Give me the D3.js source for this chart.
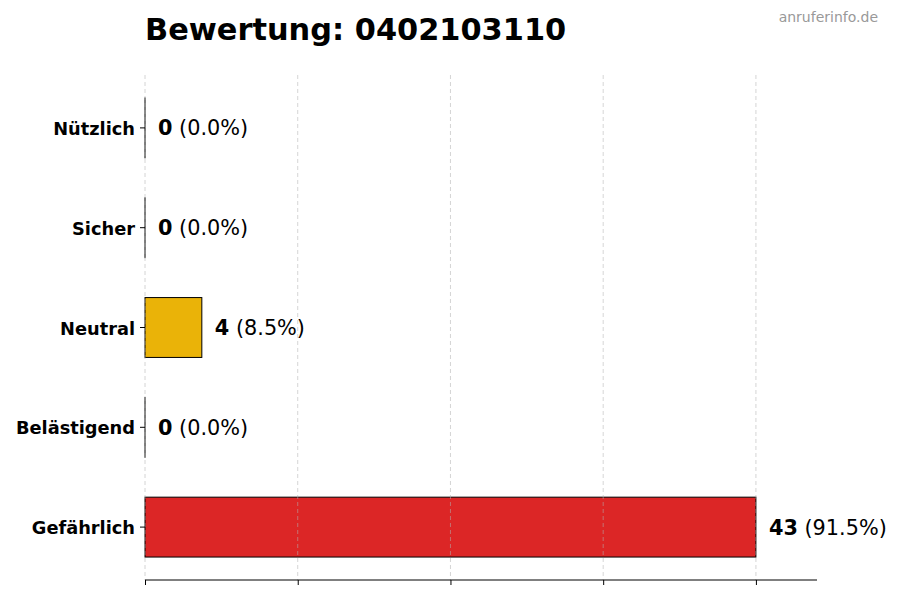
<!DOCTYPE html>
<html>
<head>
<meta charset="utf-8">
<style>
  body { margin: 0; background: #fff; }
  svg { font-family: "DejaVu Sans", sans-serif; }
</style>
<script src="https://d3js.org/d3.v7.min.js"></script>
</head>
<body>
<script>
const categories = ["Nützlich", "Sicher", "Neutral", "Belästigend", "Gefährlich"];
const counts = [0, 0, 4, 0, 43];
const colors = ["#16a34a", "#2563eb", "#eab308", "#f97316", "#dc2626"];
const phone = "0402103110";

const w = 900, h = 600;
const plotL = 145, plotR = 817, plotT = 75, plotB = 580;

const total = d3.sum(counts);
const max = d3.max(counts);

const svg = d3.select("body").append("svg")
  .attr("width", w).attr("height", h);

const x = d3.scaleLinear().domain([0, max * 1.1]).range([plotL, plotR]);
const y = d3.scaleBand().domain(categories).range([plotT, plotB])
  .paddingInner(0.4).paddingOuter(0.23);

const tickVals = d3.range(0, 5).map(i => max * i / 4);

// bars (zero bars still show their edge)
svg.selectAll("rect.bar")
  .data(counts)
  .join("rect")
  .attr("class", "bar")
  .attr("x", x(0))
  .attr("y", (d, i) => y(categories[i]))
  .attr("width", d => Math.max(x(d) - x(0), 0.01))
  .attr("height", y.bandwidth())
  .attr("fill", (d, i) => colors[i])
  .attr("stroke", "#000")
  .attr("stroke-width", 1);

// grid on top, like the original
svg.append("g").selectAll("line")
  .data(tickVals)
  .join("line")
  .attr("x1", d => x(d)).attr("x2", d => x(d))
  .attr("y1", plotT).attr("y2", plotB)
  .attr("stroke", "#b0b0b0")
  .attr("stroke-opacity", 0.6)
  .attr("stroke-dasharray", "4,3")
  .attr("stroke-width", 0.9);

// x axis, ticks only
const xAxis = svg.append("g")
  .attr("transform", "translate(0," + plotB + ")")
  .call(d3.axisBottom(x).tickValues(tickVals).tickFormat("").tickSizeOuter(0).tickSize(5));
xAxis.select(".domain").attr("d", "M" + plotL + ",0H" + plotR).attr("stroke", "#000");

// y axis, no spine
const yAxis = svg.append("g")
  .attr("transform", "translate(" + plotL + ",0)")
  .call(d3.axisLeft(y).tickSize(5).tickPadding(5));
yAxis.select(".domain").remove();
yAxis.selectAll("text")
  .attr("font-family", "DejaVu Sans")
  .attr("font-size", 17.8)
  .attr("font-weight", "bold")
  .attr("dy", "0.4em")
  .attr("fill", "#000");

// value labels
const lbl = svg.append("g").selectAll("text")
  .data(counts)
  .join("text")
  .attr("x", d => x(d) + 13)
  .attr("y", (d, i) => y(categories[i]) + y.bandwidth() / 2)
  .attr("dy", "0.36em")
  .attr("font-size", 20.8)
  .attr("fill", "#000");
lbl.append("tspan").attr("font-weight", "bold").text(d => d);
lbl.append("tspan").text(d => " (" + (d / total * 100).toFixed(1) + "%)");

// title
svg.append("text")
  .attr("x", plotL).attr("y", 40)
  .attr("font-size", 30.4)
  .attr("font-weight", "bold")
  .text("Bewertung: " + phone);

svg.append("text")
  .attr("x", 878).attr("y", 22)
  .attr("text-anchor", "end")
  .attr("font-size", 14)
  .attr("fill", "#999")
  .text("anruferinfo.de");
</script>
</body>
</html>
